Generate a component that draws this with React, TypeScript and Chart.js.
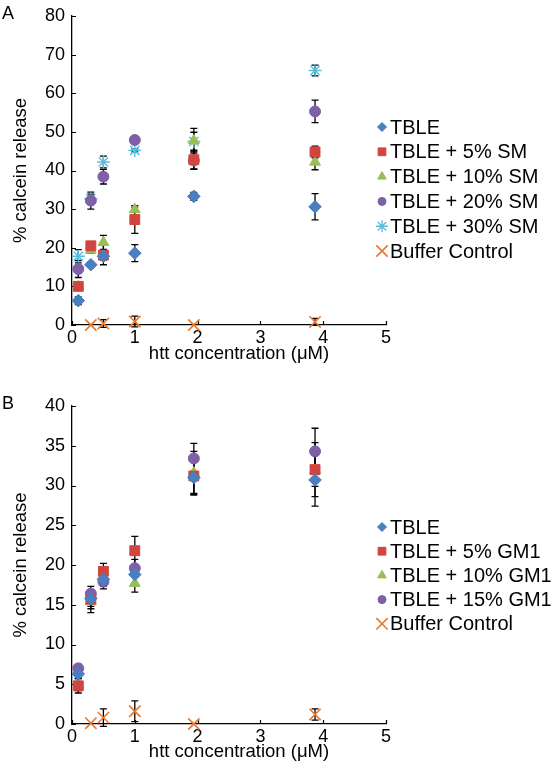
import React, { useEffect, useRef } from 'react';
import { Chart, registerables } from 'chart.js';
import { drawPoint } from 'chart.js/helpers';

Chart.register(...registerables);

// ---------- shared x values ----------
const concentrations = [0.1, 0.3, 0.5, 1, 1.94, 3.87];
const bufferConc = [0.3, 0.5, 1, 1.94, 3.87];
const xTickValues = [0, 1, 2, 3, 4, 5];

// ---------- Panel A (SM) ----------
const smLabels = ['TBLE', 'TBLE + 5% SM', 'TBLE + 10% SM', 'TBLE + 20% SM', 'TBLE + 30% SM', 'Buffer Control'];
const aTBLE = [6.3, 15.6, 17.8, 18.6, 33.3, 30.6];
const aTBLEErr = [1.0, 0.7, 1.0, 2.2, 1.0, 3.4];
const aSM5 = [10.0, 20.5, 18.1, 27.3, 42.8, 44.8];
const aSM5Err = [0.6, 1.0, 2.5, 3.6, 2.5, 1.5];
const aSM10 = [9.9, 19.4, 21.4, 29.9, 47.7, 42.2];
const aSM10Err = [0.6, 0.8, 1.8, 0.6, 3.2, 2.0];
const aSM20 = [14.5, 32.2, 38.4, 47.9, 42.6, 55.3];
const aSM20Err = [2.2, 2.2, 1.9, 0.5, 2.2, 2.9];
const aSM30 = [17.8, 32.7, 42.2, 45.2, 47.5, 65.9];
const aSM30Err = [1.7, 1.2, 1.5, 0.4, 2.4, 1.4];
const aBuffer = [0, 0.4, 0.9, 0, 0.8];
const aBufferErr = [0, 1.0, 1.4, 0, 0.9];
const aYTicks = [0, 10, 20, 30, 40, 50, 60, 70, 80];

// ---------- Panel B (GM1) ----------
const gmLabels = ['TBLE', 'TBLE + 5% GM1', 'TBLE + 10% GM1', 'TBLE + 15% GM1', 'Buffer Control'];
const bTBLE = [6.3, 15.8, 18.2, 18.8, 31.0, 30.7];
const bTBLEErr = [0.6, 1.0, 0.9, 1.2, 2.0, 3.3];
const bGM5 = [4.8, 15.7, 19.2, 21.8, 31.2, 32.0];
const bGM5Err = [0.9, 1.2, 1.0, 1.8, 2.4, 3.4];
const bGM10 = [5.0, 15.4, 18.5, 17.7, 31.6, 31.9];
const bGM10Err = [0.8, 1.4, 1.0, 1.1, 2.7, 2.0];
const bGM15 = [7.0, 16.4, 17.9, 19.6, 33.4, 34.3];
const bGM15Err = [0.5, 0.9, 0.9, 1.1, 1.9, 2.9];
const bBuffer = [0.1, 0.8, 1.6, 0, 1.2];
const bBufferErr = [0, 1.1, 1.3, 0, 0.7];
const bYTicks = [0, 5, 10, 15, 20, 25, 30, 35, 40];

const xTitle = 'htt concentration (\u03bcM)';
const yTitle = '% calcein release';

// ---------- styles ----------
const FONT = "'Liberation Sans', Arial, Helvetica, sans-serif";
const BLUE = '#4A7EC0';
const RED = '#D0463F';
const GREEN = '#98BE56';
const PURPLE = '#7F5FA8';
const CYAN = '#58BEDD';
const ORANGE = '#E9782E';

type MarkerStyle = { color: string; style: string; radius: number; border: number; legendRadius: number };
const mDiamond: MarkerStyle = { color: BLUE, style: 'rectRot', radius: 6.3, border: 1, legendRadius: 4.5 };
const mSquare: MarkerStyle = { color: RED, style: 'rect', radius: 7, border: 1, legendRadius: 5.5 };
const mTriangle: MarkerStyle = { color: GREEN, style: 'triangle', radius: 6.3, border: 1, legendRadius: 5 };
const mCircle: MarkerStyle = { color: PURPLE, style: 'circle', radius: 5.5, border: 1, legendRadius: 4 };
const mStar: MarkerStyle = { color: CYAN, style: 'star', radius: 6.5, border: 1.4, legendRadius: 6 };
const mCross: MarkerStyle = { color: ORANGE, style: 'crossRot', radius: 8, border: 1.6, legendRadius: 8 };

function makeDataset(label: string, xs: number[], ys: number[], errs: number[], m: MarkerStyle) {
  return {
    label,
    data: xs.map((x, i) => ({ x, y: ys[i] })),
    errors: errs,
    marker: m,
    showLine: false,
    clip: false,
    pointStyle: m.style,
    pointRadius: m.radius,
    pointHoverRadius: m.radius,
    pointBackgroundColor: m.color,
    pointBorderColor: m.color,
    pointBorderWidth: m.border,
  };
}

const decorPlugin = {
  id: 'decor',
  beforeDatasetsDraw(chart: any) {
    const { ctx, scales, chartArea } = chart;
    const xs = scales.x;
    const ys = scales.y;
    ctx.save();
    ctx.strokeStyle = '#000';
    ctx.lineWidth = 1.2;
    // inward tick marks
    ctx.beginPath();
    ys.ticks.forEach((t: any) => {
      const py = Math.round(ys.getPixelForValue(t.value)) + 0.5;
      ctx.moveTo(chartArea.left, py);
      ctx.lineTo(chartArea.left + 4, py);
    });
    xs.ticks.forEach((t: any) => {
      const px = Math.round(xs.getPixelForValue(t.value)) + 0.5;
      ctx.moveTo(px, chartArea.bottom);
      ctx.lineTo(px, chartArea.bottom - 4);
    });
    ctx.stroke();
    // error bars
    ctx.lineWidth = 1.3;
    chart.data.datasets.forEach((ds: any) => {
      const errs: number[] = ds.errors;
      if (!errs) return;
      ds.data.forEach((p: any, i: number) => {
        const e = errs[i];
        if (!e) return;
        const px = xs.getPixelForValue(p.x);
        const top = ys.getPixelForValue(p.y + e);
        const bot = ys.getPixelForValue(p.y - e);
        ctx.beginPath();
        ctx.moveTo(px, top);
        ctx.lineTo(px, bot);
        ctx.moveTo(px - 3.5, top);
        ctx.lineTo(px + 3.5, top);
        ctx.moveTo(px - 3.5, bot);
        ctx.lineTo(px + 3.5, bot);
        ctx.stroke();
      });
    });
    ctx.restore();
  },
  afterDraw(chart: any, _args: any, opts: any) {
    const { ctx, chartArea } = chart;
    ctx.save();
    ctx.fillStyle = '#000';
    // panel letter
    ctx.font = `18px ${FONT}`;
    ctx.textAlign = 'left';
    ctx.textBaseline = 'middle';
    ctx.fillText(opts.letter, 2, opts.letterY);
    // x axis title
    ctx.font = `18.5px ${FONT}`;
    ctx.textAlign = 'center';
    ctx.fillText(xTitle, (chartArea.left + chartArea.right) / 2 + 10, opts.xTitleY);
    // legend
    ctx.font = `20px ${FONT}`;
    ctx.textAlign = 'left';
    chart.data.datasets.forEach((ds: any, i: number) => {
      const m: MarkerStyle = ds.marker;
      const y = opts.legendTop + i * opts.legendStep;
      ctx.fillStyle = m.color;
      ctx.strokeStyle = m.color;
      ctx.lineWidth = m.border;
      drawPoint(ctx, { pointStyle: m.style, radius: m.legendRadius, rotation: 0, borderWidth: m.border }, opts.legendX, y);
      ctx.fillStyle = '#000';
      ctx.fillText(ds.label, opts.legendX + 8, y + 1);
    });
    ctx.restore();
  },
};

type PanelCfg = {
  datasets: any[];
  yMax: number;
  yTicks: number[];
  top: number;
  plotTop: number;
  plotBottom: number;
  letter: string;
  letterY: number;
  legendTop: number;
  legendStep: number;
  xTitleY: number;
};

const H = 386;

function Panel({ cfg }: { cfg: PanelCfg }) {
  const ref = useRef<HTMLCanvasElement>(null);
  useEffect(() => {
    if (!ref.current) return;
    const tickFont = { family: FONT, size: 18, lineHeight: 1 };
    const chart = new Chart(ref.current, {
      type: 'scatter',
      data: { datasets: cfg.datasets },
      plugins: [decorPlugin],
      options: {
        animation: false,
        responsive: false,
        devicePixelRatio: 1,
        events: [],
        layout: { padding: { top: cfg.plotTop, right: 169, bottom: 0, left: 0 } },
        plugins: {
          legend: { display: false },
          tooltip: { enabled: false },
          decor: {
            letter: cfg.letter,
            letterY: cfg.letterY,
            legendX: 382,
            legendTop: cfg.legendTop,
            legendStep: cfg.legendStep,
            xTitleY: cfg.xTitleY,
          },
        } as any,
        scales: {
          x: {
            type: 'linear',
            min: 0,
            max: 5,
            afterBuildTicks: (s: any) => {
              s.ticks = xTickValues.map((v) => ({ value: v }));
            },
            afterFit: (s: any) => {
              s.height = H - cfg.plotBottom;
            },
            grid: { display: false, drawTicks: false },
            border: { display: true, color: '#000', width: 1.3 },
            ticks: { color: '#000', font: tickFont, padding: 4, maxRotation: 0 },
            title: { display: false },
          },
          y: {
            type: 'linear',
            min: 0,
            max: cfg.yMax,
            afterBuildTicks: (s: any) => {
              s.ticks = cfg.yTicks.map((v) => ({ value: v }));
            },
            afterFit: (s: any) => {
              s.width = 72;
            },
            grid: { display: false, drawTicks: false },
            border: { display: true, color: '#000', width: 1.3 },
            ticks: { color: '#000', font: tickFont, padding: 7 },
            title: {
              display: true,
              text: yTitle,
              color: '#000',
              font: { family: FONT, size: 18.5 },
              padding: { top: 10, bottom: 0 },
            },
          },
        },
      } as any,
    });
    return () => chart.destroy();
  }, [cfg]);
  return (
    <canvas
      ref={ref}
      width={555}
      height={H}
      style={{ position: 'absolute', left: 0, top: cfg.top, width: 555, height: H, display: 'block' }}
    />
  );
}

const panelA: PanelCfg = {
  datasets: [
    makeDataset(smLabels[0], concentrations, aTBLE, aTBLEErr, mDiamond),
    makeDataset(smLabels[1], concentrations, aSM5, aSM5Err, mSquare),
    makeDataset(smLabels[2], concentrations, aSM10, aSM10Err, mTriangle),
    makeDataset(smLabels[3], concentrations, aSM20, aSM20Err, mCircle),
    makeDataset(smLabels[4], concentrations, aSM30, aSM30Err, mStar),
    makeDataset(smLabels[5], bufferConc, aBuffer, aBufferErr, mCross),
  ],
  yMax: 80,
  yTicks: aYTicks,
  top: 0,
  plotTop: 9,
  plotBottom: 325,
  letter: 'A',
  letterY: 14,
  legendTop: 127,
  legendStep: 24.8,
  xTitleY: 354,
};

const panelB: PanelCfg = {
  datasets: [
    makeDataset(gmLabels[0], concentrations, bTBLE, bTBLEErr, mDiamond),
    makeDataset(gmLabels[1], concentrations, bGM5, bGM5Err, mSquare),
    makeDataset(gmLabels[2], concentrations, bGM10, bGM10Err, mTriangle),
    makeDataset(gmLabels[3], concentrations, bGM15, bGM15Err, mCircle),
    makeDataset(gmLabels[4], bufferConc, bBuffer, bBufferErr, mCross),
  ],
  yMax: 40,
  yTicks: bYTicks,
  top: 386,
  plotTop: 20,
  plotBottom: 338,
  letter: 'B',
  letterY: 18,
  legendTop: 141,
  legendStep: 24.2,
  xTitleY: 366,
};

export default function App() {
  return (
    <div style={{ position: 'absolute', left: 0, top: 0, width: 555, height: 772, background: '#fff' }}>
      <Panel cfg={panelA} />
      <Panel cfg={panelB} />
    </div>
  );
}
